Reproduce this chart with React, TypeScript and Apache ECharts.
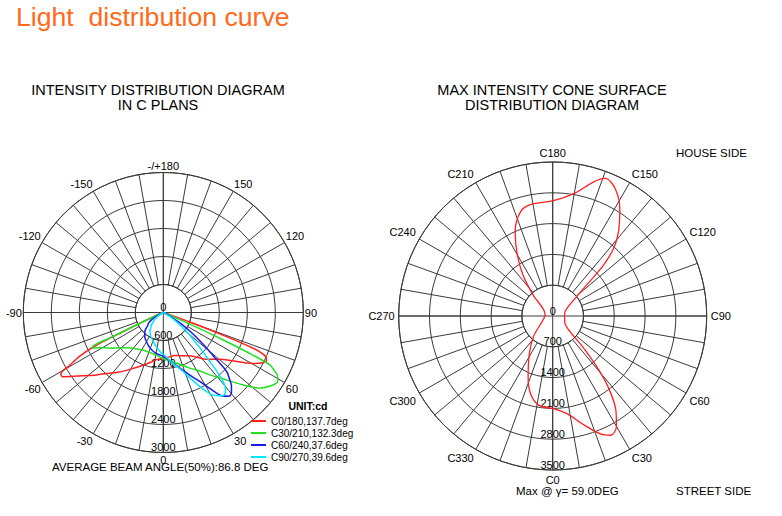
import React, { useEffect, useRef } from 'react';
import * as echarts from 'echarts';

const FONT = '"Liberation Sans", Arial, Helvetica, sans-serif';
const GRID = '#3a3a3a';

// ---- Left chart: intensity (cd) vs gamma (deg), negative gamma = opposite half-plane ----
const c0c180: [number, number][] = [
  [-90, 0], [-72, 0], [-67, 150], [-65.5, 500], [-64.6, 900], [-64, 1600], [-62.5, 2000], [-60.6, 2300],
  [-59, 2560], [-57.5, 2560], [-55.5, 2420], [-52, 2200], [-47, 1960], [-43, 1790], [-38, 1630],
  [-32.5, 1470], [-27, 1330], [-21, 1210], [-14, 1100], [-8, 1020], [0, 980], [8, 960], [15, 955],
  [21, 990], [28, 1050], [35, 1150], [43, 1370], [50, 1560], [54, 1740], [58, 2020], [61, 2250],
  [63.5, 2400], [65, 2440], [66.5, 2400], [67.5, 2300], [68.3, 2070], [69.1, 1450], [70.2, 680],
  [71.5, 150], [74, 0], [90, 0],
];
const c30c210: [number, number][] = [
  [-90, 0], [-70, 0], [-66.5, 150], [-65.2, 600], [-64.5, 1200], [-63.8, 1700], [-62.5, 1650],
  [-61, 1550], [-58.5, 1450], [-56, 1370], [-51, 1200], [-46, 1090], [-40, 1000], [-34, 950],
  [-28, 915], [-18, 905], [-9, 930], [0, 985], [9, 1060], [18, 1170], [25, 1310], [32, 1480],
  [37, 1680], [41, 1860], [47, 2250], [52, 2630], [56, 2800], [59, 2860], [61, 2800], [62.2, 2700],
  [63.8, 2550], [64.6, 2100], [65.3, 1500], [66.3, 700], [67.5, 150], [70, 0], [90, 0],
];
const c60c240: [number, number][] = [
  [-90, 0], [-68, 0], [-62, 150], [-58, 300], [-54, 390], [-50, 440], [-44, 570], [-37, 660],
  [-30, 720], [-23, 790], [-17, 840], [-10, 890], [-4, 915], [0, 935], [8, 1050], [17, 1250],
  [23, 1460], [28, 1680], [32, 1950], [35, 2180], [38, 2280], [40.5, 2250], [43, 2140], [45, 2000],
  [47, 1860], [49, 1420], [51, 1150], [53, 900], [55, 700], [57.5, 480], [60, 250], [64, 80],
  [70, 0], [90, 0],
];
const c90c270: [number, number][] = [
  [-90, 0], [-66, 0], [-60, 80], [-52, 220], [-45, 340], [-40, 420], [-34.7, 500], [-27, 580],
  [-19, 660], [-10, 770], [-2, 880], [0, 895], [9, 1070], [18.7, 1340], [24, 1620], [28.7, 1935],
  [32, 2100], [35, 2180], [37, 2190], [39, 2120], [40.9, 1960], [42.3, 1700], [43.5, 1450],
  [46, 1100], [48.5, 820], [50.6, 650], [54, 400], [58, 180], [63, 50], [70, 0], [90, 0],
];
const leftCurves = [c0c180, c30c210, c60c240, c90c270];
const legendNames = ['C0/180,137.7deg', 'C30/210,132.3deg', 'C60/240,37.6deg', 'C90/270,39.6deg'];
const curveColors = ['#ff2020', '#22e022', '#1a1ae8', '#00e8ff'];
const leftRadiusMax = 3000;
const leftRadiusStep = 600;

// ---- Right chart: max-intensity cone at gamma 59 deg, intensity vs C angle ----
const coneC = [
  0, 8, 16, 22, 26, 30, 34, 38, 41, 44, 48, 59, 90, 109, 129, 133, 135, 138, 142, 148, 154, 159,
  163, 170, 180, 191, 197, 204, 210, 216, 223, 251, 263, 305, 317, 328, 338, 344, 351, 360,
];
const coneCd = [
  2098, 2234, 2573, 2889, 3016, 2898, 2563, 2044, 1526, 1012, 531, 325, 270, 296, 700, 1152, 1633,
  2066, 2428, 2878, 3230, 3348, 3189, 2828, 2614, 2584, 2485, 2099, 1610, 1147, 650, 186, 176, 354,
  645, 1001, 1492, 1832, 2050, 2098,
];
const rightRadiusMax = 3500;
const rightRadiusStep = 700;

const leftAngleLabel = (v: number) =>
  v === 360 ? '' : v === 180 ? '-/+180' : v <= 180 ? String(v) : String(v - 360);
const rightAngleLabel = (v: number) => (v === 360 ? '' : 'C' + v);
const radiusLabel = (v: number) => String(v);

const toAngle = (g: number) => (g < 0 ? g + 360 : g);

export default function App() {
  const ref = useRef<HTMLDivElement>(null);
  useEffect(() => {
    if (!ref.current) return;
    const chart = echarts.init(ref.current, undefined, { renderer: 'svg' });
    const line = { color: GRID, width: 1 };
    const labelTxt = { fontFamily: FONT, fontSize: 11, color: '#000' };

    const mkAngleFull = (polarIndex: number) => ({
      polarIndex, type: 'value', min: 0, max: 360, interval: 90, startAngle: 270, clockwise: false,
      axisLine: { show: false }, axisTick: { show: false }, axisLabel: { show: false },
      splitLine: { show: true, lineStyle: line },
    });
    const mkAngleRing = (polarIndex: number, margin: number, fmt: (v: number) => string) => ({
      polarIndex, type: 'value', min: 0, max: 360, interval: 30, startAngle: 270, clockwise: false,
      axisLine: { show: true, lineStyle: line }, axisTick: { show: false },
      axisLabel: { show: true, margin, formatter: fmt, ...labelTxt },
      splitLine: { show: true, lineStyle: line },
      minorTick: { show: false, splitNumber: 3 },
      minorSplitLine: { show: true, lineStyle: line },
    });
    const mkRadius = (polarIndex: number, max: number, step: number) => ({
      polarIndex, type: 'value', min: 0, max, interval: step,
      axisLine: { show: false }, axisTick: { show: false },
      splitLine: { show: true, lineStyle: line },
      axisLabel: {
        show: true, margin: 0, align: 'center', verticalAlign: 'bottom', formatter: radiusLabel, ...labelTxt,
      },
    });
    const mkRadiusHidden = (polarIndex: number) => ({
      polarIndex, type: 'value', min: 0, max: 1, show: false,
    });

    const text = (t: string, x: number, y: number, opts: any = {}) => ({
      type: 'text', x, y, silent: true,
      style: {
        text: t, fontFamily: FONT, fontSize: opts.fontSize ?? 11.5, fontWeight: opts.fontWeight ?? 'normal',
        fill: opts.fill ?? '#000', align: opts.align ?? 'left', verticalAlign: 'middle',
      },
    });

    const option: any = {
      animation: false,
      backgroundColor: '#fff',
      polar: [
        { center: [163.3, 312.5], radius: [0, 140] },
        { center: [163.3, 312.5], radius: [28, 140] },
        { center: [552.7, 316], radius: [0, 154] },
        { center: [552.7, 316], radius: [30.8, 154] },
      ],
      angleAxis: [
        mkAngleFull(0),
        mkAngleRing(1, 1.5, leftAngleLabel),
        mkAngleFull(2),
        mkAngleRing(3, 4, rightAngleLabel),
      ],
      radiusAxis: [
        mkRadius(0, leftRadiusMax, leftRadiusStep),
        mkRadiusHidden(1),
        mkRadius(2, rightRadiusMax, rightRadiusStep),
        mkRadiusHidden(3),
      ],
      legend: {
        data: legendNames, orient: 'vertical', left: 251, top: 416, padding: 0,
        itemWidth: 15, itemHeight: 2, itemGap: 2, icon: 'rect', selectedMode: false,
        textStyle: { fontFamily: FONT, fontSize: 10, color: '#000' },
      },
      series: [
        ...leftCurves.map((curve, i) => ({
          name: legendNames[i], type: 'line', coordinateSystem: 'polar', polarIndex: 0,
          data: curve.map(([g, cd]) => [cd, toAngle(g)]),
          smooth: 0.3, showSymbol: false, symbol: 'none',
          lineStyle: { color: curveColors[i], width: 1.5 }, itemStyle: { color: curveColors[i] },
        })),
        {
          name: 'cone', type: 'line', coordinateSystem: 'polar', polarIndex: 2,
          data: coneC.map((c, i) => [coneCd[i], c]),
          smooth: 0.3, showSymbol: false, symbol: 'none',
          lineStyle: { color: '#ff2020', width: 1.3 }, itemStyle: { color: '#ff2020' },
        },
      ],
      graphic: [
        text('Light  distribution curve', 16, 17, { fontSize: 26.6, fill: '#ff6a1a' }),
        text('INTENSITY DISTRIBUTION DIAGRAM', 158, 90, { fontSize: 14.5, align: 'center' }),
        text('IN C PLANS', 158, 105, { fontSize: 14.5, align: 'center' }),
        text('MAX INTENSITY CONE SURFACE', 552, 90, { fontSize: 14.5, align: 'center' }),
        text('DISTRIBUTION DIAGRAM', 552, 105, { fontSize: 14.5, align: 'center' }),
        text('HOUSE SIDE', 676, 153),
        text('STREET SIDE', 676, 491),
        text('Max @ γ= 59.0DEG', 516, 491),
        text('AVERAGE BEAM ANGLE(50%):86.8 DEG', 52, 467),
        text('UNIT:cd', 308, 406, { fontSize: 10.5, fontWeight: 'bold', align: 'center' }),
      ],
    };
    chart.setOption(option);
    return () => chart.dispose();
  }, []);
  return (
    <div
      ref={ref}
      style={{ position: 'absolute', left: 0, top: 0, width: 782, height: 516, background: '#fff' }}
    />
  );
}
